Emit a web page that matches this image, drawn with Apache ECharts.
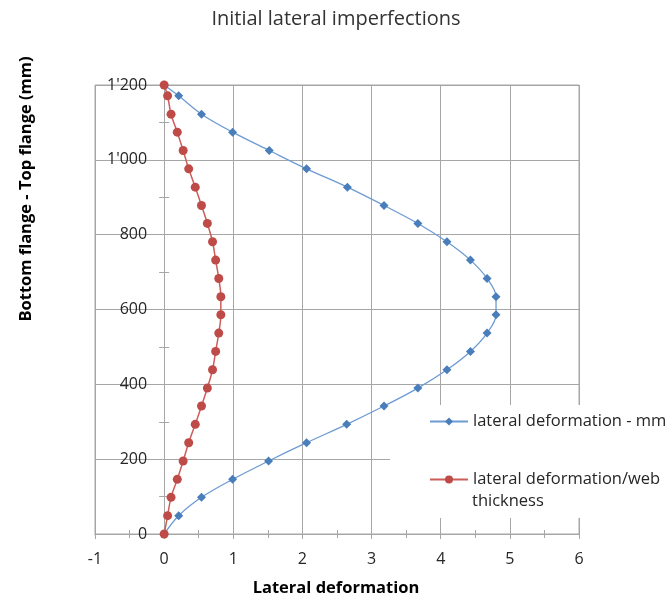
<!DOCTYPE html>
<html>
<head>
<meta charset="utf-8">
<script src="https://cdn.jsdelivr.net/npm/echarts@6/dist/echarts.min.js"></script>
<style>
  html, body { margin: 0; padding: 0; background: #fff; }
  #chart { width: 672px; height: 601px; }
</style>
</head>
<body>
<div id="chart"></div>
<script>
// Height positions along the web, bottom flange (0) to top flange (1200 mm)
const heightMm = [0, 49, 98, 146, 195, 244, 293, 342, 390, 439, 488, 537, 586,
                  634, 683, 732, 781, 830, 878, 927, 976, 1025, 1074, 1122, 1171, 1200];
// Lateral deformation in mm
const lateralMm = [0, 0.21, 0.54, 0.99, 1.51, 2.06, 2.64, 3.18, 3.67, 4.09, 4.43, 4.67, 4.80,
                   4.80, 4.67, 4.43, 4.09, 3.67, 3.18, 2.65, 2.06, 1.52, 0.99, 0.54, 0.21, 0];
// Lateral deformation divided by web thickness
const lateralRatio = [0, 0.05, 0.10, 0.19, 0.275, 0.355, 0.45, 0.54, 0.625, 0.70, 0.745, 0.79, 0.82,
                      0.82, 0.79, 0.745, 0.70, 0.625, 0.54, 0.45, 0.355, 0.275, 0.19, 0.10, 0.05, 0];

const seriesNames = ['lateral deformation - mm', 'lateral deformation/web thickness'];
const xRange = { min: -1, max: 6, step: 1 };
const yRange = { min: 0, max: 1200, step: 200 };

const FONT = 'Open Sans';
const GRID_COLOR = '#a6a6a6';
const TEXT_COLOR = '#262626';

const CHART_W = 672;
const GRID = { left: 95, right: 93, top: 85, bottom: 67 };
// The vertical axis sits at x = 0, so shift it inward from the grid's left edge
const plotWidth = CHART_W - GRID.left - GRID.right;
const yAxisShift = -plotWidth * (0 - xRange.min) / (xRange.max - xRange.min);

function formatThousands(v) {
  if (Math.abs(v) >= 1000) {
    return Math.floor(v / 1000) + "'" + String(v % 1000).padStart(3, '0');
  }
  return String(v);
}

function pairs(xs, ys) {
  return xs.map((x, i) => [x, ys[i]]);
}

const chart = echarts.init(document.getElementById('chart'), null, { renderer: 'canvas' });

const baseX = {
  type: 'value', min: xRange.min, max: xRange.max, interval: xRange.step,
  position: 'bottom'
};
const baseY = {
  type: 'value', min: yRange.min, max: yRange.max, interval: yRange.step,
  position: 'left', offset: yAxisShift
};

chart.setOption({
  animation: false,
  backgroundColor: '#ffffff',
  title: {
    text: 'Initial lateral imperfections',
    left: 'center', top: 4,
    textStyle: { fontFamily: FONT, fontSize: 20, fontWeight: 'normal', color: '#333333' }
  },
  grid: Object.assign({}, GRID, {
    show: true, borderColor: GRID_COLOR, borderWidth: 1, backgroundColor: 'transparent'
  }),
  xAxis: [
    Object.assign({}, baseX, {
      axisLine: { onZero: false, lineStyle: { color: GRID_COLOR } },
      axisTick: { show: true, length: 5, lineStyle: { color: GRID_COLOR } },
      minorTick: { show: true, splitNumber: 2, length: 4, lineStyle: { color: GRID_COLOR } },
      axisLabel: { margin: 17, fontFamily: FONT, fontSize: 16, color: TEXT_COLOR },
      splitLine: { show: true, lineStyle: { color: GRID_COLOR, width: 1 } }
    }),
    Object.assign({}, baseX, {
      axisLine: { onZero: false, lineStyle: { color: GRID_COLOR } },
      axisTick: { show: true, inside: true, length: 4, lineStyle: { color: GRID_COLOR } },
      minorTick: { show: true, splitNumber: 2, length: 4, lineStyle: { color: GRID_COLOR } },
      axisLabel: { show: false },
      splitLine: { show: false }
    })
  ],
  yAxis: [
    Object.assign({}, baseY, {
      axisLine: { onZero: false, lineStyle: { color: GRID_COLOR } },
      axisTick: { show: true, length: 5, lineStyle: { color: GRID_COLOR } },
      minorTick: { show: true, splitNumber: 2, length: 5, lineStyle: { color: GRID_COLOR } },
      axisLabel: { margin: 17, fontFamily: FONT, fontSize: 16, color: TEXT_COLOR,
                   formatter: formatThousands },
      splitLine: { show: true, lineStyle: { color: GRID_COLOR, width: 1 } }
    }),
    Object.assign({}, baseY, {
      axisLine: { onZero: false, lineStyle: { color: GRID_COLOR } },
      axisTick: { show: false, inside: true, length: 5 },
      minorTick: { show: true, splitNumber: 2, length: 5, lineStyle: { color: GRID_COLOR } },
      axisLabel: { show: false },
      splitLine: { show: false }
    })
  ],
  legend: {
    orient: 'vertical',
    left: 429, top: 413,
    itemWidth: 38, itemHeight: 10, itemGap: 41,
    padding: 0,
    data: seriesNames,
    formatter: function (name) {
      return name === seriesNames[1] ? 'lateral deformation/web' : name;
    },
    textStyle: { fontFamily: FONT, fontSize: 16.5, color: TEXT_COLOR }
  },
  graphic: [
    {
      type: 'rect', z: 1,
      shape: { x: 390, y: 405, width: 282, height: 113 },
      style: { fill: '#ffffff' }
    },
    {
      type: 'text', z: 10,
      x: 472, y: 501,
      style: { text: 'thickness', font: '16.5px "Open Sans"', fill: TEXT_COLOR,
               verticalAlign: 'middle' }
    },
    {
      type: 'text', z: 10,
      x: 336, y: 588,
      style: { text: 'Lateral deformation', font: 'bold 16.5px "Open Sans"', fill: '#000000',
               align: 'center', verticalAlign: 'middle' }
    },
    {
      type: 'text', z: 10,
      x: 26, y: 189, rotation: Math.PI / 2,
      style: { text: 'Bottom flange - Top flange (mm)', font: 'bold 16.5px "Open Sans"', fill: '#000000',
               align: 'center', verticalAlign: 'middle' }
    }
  ],
  series: [
    {
      name: seriesNames[0],
      type: 'line',
      xAxisIndex: 0, yAxisIndex: 0,
      data: pairs(lateralMm, heightMm),
      smooth: 0.35,
      symbol: 'diamond', symbolSize: 9,
      itemStyle: { color: '#4a7ebb' },
      lineStyle: { color: '#6d9bd3', width: 1.3 },
      z: 3
    },
    {
      name: seriesNames[1],
      type: 'line',
      xAxisIndex: 0, yAxisIndex: 0,
      data: pairs(lateralRatio, heightMm),
      smooth: 0.35,
      symbol: 'circle', symbolSize: 9,
      itemStyle: { color: '#be4b48' },
      lineStyle: { color: '#cc5e5a', width: 1.5 },
      z: 3
    }
  ]
});
</script>
</body>
</html>
